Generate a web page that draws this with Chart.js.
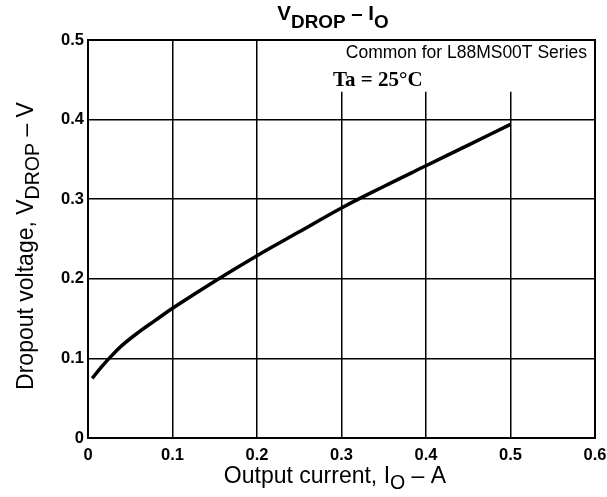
<!DOCTYPE html>
<html>
<head>
<meta charset="utf-8">
<script src="https://cdn.jsdelivr.net/npm/chart.js@4"></script>
<style>
  html, body { margin: 0; padding: 0; background: #fff; }
  #wrap { width: 607px; height: 497px; }
</style>
</head>
<body>
<div id="wrap"><canvas id="vdropChart" width="607" height="497"></canvas></div>
<script>
// Values (output current in A, dropout voltage in V)
const currentA = [0.005, 0.015, 0.025, 0.04, 0.06, 0.08, 0.1, 0.15, 0.2, 0.25, 0.3, 0.35, 0.4, 0.45, 0.5];
const dropoutV = [0.075, 0.088, 0.1, 0.116, 0.133, 0.148, 0.163, 0.197, 0.229, 0.259, 0.289, 0.316, 0.342, 0.368, 0.394];
const xTicks = [0, 0.1, 0.2, 0.3, 0.4, 0.5, 0.6];
const yTicks = [0, 0.1, 0.2, 0.3, 0.4, 0.5];

const points = currentA.map((x, i) => ({ x: x, y: dropoutV[i] }));

// draws text pieces (some as subscripts) in a row, centered on (cx, cy)
function drawSubText(ctx, parts, cx, cy, size, bold, subScale, subDrop) {
    const w = bold ? 'bold ' : '';
    const fontFor = p => w + (p.sub ? size * subScale : size) + 'px "Liberation Sans", Arial, sans-serif';
    let total = 0;
    parts.forEach(p => {
        ctx.font = fontFor(p);
        total += ctx.measureText(p.t).width;
    });
    let x = cx - total / 2;
    ctx.textAlign = 'left';
    ctx.textBaseline = 'alphabetic';
    parts.forEach(p => {
        ctx.font = fontFor(p);
        ctx.fillText(p.t, x, cy + size * 0.35 + (p.sub ? size * subDrop : 0));
        x += ctx.measureText(p.t).width;
    });
}

const decorPlugin = {
    id: 'decor',
    beforeDatasetsDraw(chart) {
        const { ctx, chartArea, scales } = chart;
        // vertical grid lines stop below the annotation text
        ctx.save();
        ctx.fillStyle = '#fff';
        const x0 = scales.x.getPixelForValue(0.2) + 2;
        const y1 = scales.y.getPixelForValue(0.435);
        ctx.fillRect(x0, chartArea.top + 1, chartArea.right - x0 - 1, y1 - chartArea.top - 1);
        ctx.restore();
    },
    afterDraw(chart) {
        const { ctx, chartArea } = chart;
        ctx.save();
        ctx.fillStyle = '#000';
        ctx.strokeStyle = '#000';
        ctx.lineWidth = 2;
        ctx.strokeRect(chartArea.left, chartArea.top, chartArea.right - chartArea.left, chartArea.bottom - chartArea.top);

        // title
        drawSubText(ctx, [{ t: 'V' }, { t: 'DROP', sub: true }, { t: ' – I' }, { t: 'O', sub: true }],
            333, 13, 20.5, true, 0.92, 0.38);

        // x axis title
        drawSubText(ctx, [{ t: 'Output current, I' }, { t: 'O', sub: true }, { t: ' – A' }],
            335, 475, 23, false, 0.85, 0.28);

        // y axis title (rotated)
        ctx.save();
        ctx.translate(25, 246);
        ctx.rotate(-Math.PI / 2);
        drawSubText(ctx, [{ t: 'Dropout voltage, V' }, { t: 'DROP', sub: true }, { t: ' – V' }], 0, 0, 23, false, 0.85, 0.28);
        ctx.restore();

        // annotations
        ctx.textAlign = 'right';
        ctx.textBaseline = 'middle';
        ctx.font = '17.5px "Liberation Sans", Arial, sans-serif';
        ctx.fillText('Common for L88MS00T Series', 587, 53);
        ctx.textAlign = 'left';
        ctx.font = 'bold 21px "Liberation Serif", "Times New Roman", serif';
        ctx.fillText('Ta = 25°C', 333, 81);
        ctx.restore();
    }
};

const ctx = document.getElementById('vdropChart').getContext('2d');
const vdropChart = new Chart(ctx, {
    type: 'scatter',
    data: {
        datasets: [{
            label: 'VDROP',
            data: points,
            showLine: true,
            borderColor: '#000',
            borderWidth: 3.5,
            pointRadius: 0,
            tension: 0.4,
        }]
    },
    options: {
        responsive: false,
        animation: false,
        layout: { padding: { top: 40, right: 12, left: 0, bottom: 0 } },
        scales: {
            x: {
                type: 'linear',
                min: 0,
                max: 0.6,
                afterFit: s => { s.height = 59; s.paddingLeft = 0; s.paddingRight = 0; },
                afterBuildTicks: s => { s.ticks = xTicks.map(v => ({ value: v })); },
                grid: { color: '#000', lineWidth: 1.5, drawTicks: false },
                border: { display: true, color: '#000', width: 2 },
                ticks: {
                    color: '#000',
                    padding: 8,
                    font: { family: '"Liberation Sans", Arial, sans-serif', size: 16.5, weight: 'bold' },
                    callback: v => String(v)
                }
            },
            y: {
                type: 'linear',
                min: 0,
                max: 0.5,
                afterFit: s => { s.width = 88; s.paddingTop = 0; s.paddingBottom = 0; },
                afterBuildTicks: s => { s.ticks = yTicks.map(v => ({ value: v })); },
                grid: { color: '#000', lineWidth: 1.5, drawTicks: false },
                border: { display: true, color: '#000', width: 2 },
                ticks: {
                    color: '#000',
                    padding: 4,
                    font: { family: '"Liberation Sans", Arial, sans-serif', size: 16.5, weight: 'bold' },
                    callback: v => String(v)
                }
            }
        },
        plugins: {
            legend: { display: false },
            tooltip: { enabled: false }
        }
    },
    plugins: [decorPlugin]
});
</script>
</body>
</html>
